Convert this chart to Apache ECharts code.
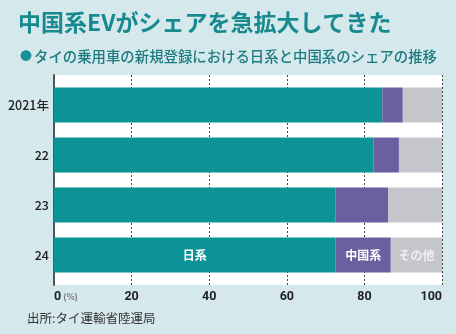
<!DOCTYPE html>
<html><head><meta charset="utf-8">
<script src="https://cdn.jsdelivr.net/npm/echarts@6/dist/echarts.min.js"></script>
<style>html,body{margin:0;padding:0;background:#d5e9ec}#c{width:456px;height:334px}</style>
</head><body><div id="c"></div>
<script>
const years = ['2021年', '22', '23', '24'];
const japan = [84.6, 82.4, 72.6, 72.6];
const china = [5.3, 6.5, 13.5, 14.2];
const other = [10.1, 11.1, 13.9, 13.2];
const seriesNames = ['日系', '中国系', 'その他'];
const xTicks = [0, 20, 40, 60, 80, 100];

const FONT = '"Noto Sans CJK JP", sans-serif';
const colors = ['#0c9396', '#6c5f9f', '#c5c5cc'];
const labelColors = ['#ffffff', '#ffffff', '#eeeef2'];

function mk(arr, idx) {
  return arr.map((v, i) => ({
    value: v,
    label: {
      show: i === arr.length - 1,
      formatter: seriesNames[idx],
      color: labelColors[idx],
      fontFamily: FONT,
      fontWeight: 'bold',
      fontSize: 12
    }
  }));
}

const chart = echarts.init(document.getElementById('c'), null, {renderer: 'canvas'});
chart.setOption({
  backgroundColor: '#d5e9ec',
  animation: false,
  title: [
    {text: '中国系EVがシェアを急拡大してきた', left: 13, top: 6,
     textStyle: {fontFamily: FONT, fontSize: 23, fontWeight: 'bold', color: '#178a8f'}},
    {text: '{d|●}タイの乗用車の新規登録における日系と中国系のシェアの推移', left: 15, top: 44,
     textStyle: {fontFamily: FONT, fontSize: 14.4, fontWeight: 500, color: '#1c7b81',
       rich: {d: {fontSize: 12, color: '#1a9096', padding: [0, 2, 0, 0]}}}}
  ],
  graphic: [
    {type: 'text', left: 27, top: 312,
     style: {text: '出所:タイ運輸省陸運局', font: '12.5px "Noto Sans CJK JP"', fill: '#333'}}
  ],
  grid: [
    {left: 54, right: 14, top: 75, bottom: 49, show: true, backgroundColor: '#ffffff', borderWidth: 0},
    {left: 54, right: 14, top: 80, height: 200}
  ],
  xAxis: [
    {gridIndex: 0, type: 'value', min: 0, max: 100, interval: 20,
     axisLine: {show: false}, axisTick: {show: false},
     splitLine: {show: true, lineStyle: {type: [2, 2], color: '#444', width: 1}},
     axisLabel: {margin: 5, fontFamily: '"Roboto", sans-serif', fontSize: 12.5, fontWeight: 'bold', color: '#222',
       alignMinLabel: 'left', alignMaxLabel: 'right',
       formatter: v => v === 0 ? '0{u|(%)}' : String(v),
       rich: {u: {fontSize: 8.5, color: '#777', fontFamily: FONT, padding: [0, 0, 0, 2]}}}},
    {gridIndex: 1, type: 'value', min: 0, max: 100, show: false}
  ],
  yAxis: [
    {gridIndex: 0, type: 'value', min: 0, max: 1, axisLine: {show: true, lineStyle: {color: '#555', width: 2}},
     axisTick: {show: false}, axisLabel: {show: false}, splitLine: {show: false}},
    {gridIndex: 1, type: 'category', inverse: true, data: years,
     axisLine: {show: false}, axisTick: {show: false},
     axisLabel: {margin: 5, fontFamily: FONT, fontSize: 12.5, fontWeight: 500, color: '#222'}}
  ],
  series: [japan, china, other].map((arr, idx) => ({
    type: 'bar', name: seriesNames[idx], stack: 's', xAxisIndex: 1, yAxisIndex: 1,
    barWidth: 35, itemStyle: {color: colors[idx]},
    label: {position: 'inside'},
    data: mk(arr, idx)
  }))
});
</script></body></html>
